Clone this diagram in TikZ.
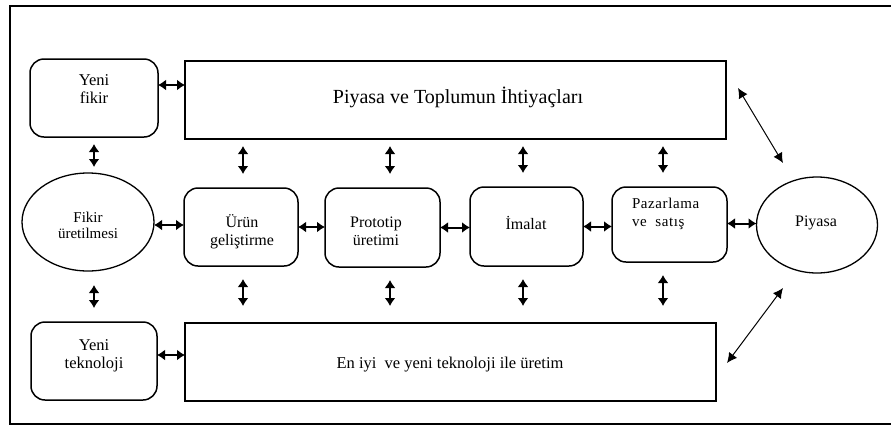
\documentclass[tikz,border=0pt]{standalone}
\usepackage{fontspec}
\setmainfont{Liberation Serif}
\usetikzlibrary{arrows.meta,shapes.geometric,calc}
\begin{document}
\begin{tikzpicture}[x=1pt,y=-1pt,
  every node/.style={inner sep=0pt, outer sep=0pt},
  rbox/.style={draw, line width=1.5pt, rounded corners=14pt},
  sbox/.style={draw, line width=1.5pt},
  oval/.style={draw, ellipse, line width=1.3pt},
  txt/.style={align=center, font=\fontsize{16}{18}\selectfont},
  link/.style={line width=2pt, {Latex[length=8pt,width=11pt]}-{Latex[length=8pt,width=11pt]}},
  diag/.style={line width=1pt, {Latex[length=10pt,width=10pt]}-{Latex[length=10pt,width=10pt]}}]
\useasboundingbox (0,0) rectangle (891,429);
% outer frame
\draw[line width=1.8pt] (891,6) -- (10,6) -- (10,424) -- (891,424);

% boxes
\node[rbox, minimum width=128, minimum height=78] (yf) at (94,98) {};
\node[sbox, minimum width=541, minimum height=78] (top) at (455.5,100) {};
\node[oval, minimum width=132, minimum height=98] (fk) at (88,222) {};
\node[rbox, minimum width=114, minimum height=78] (ur) at (241,227) {};
\node[rbox, minimum width=115, minimum height=79] (pr) at (382.5,227.5) {};
\node[rbox, minimum width=113, minimum height=79] (im) at (526.5,226.5) {};
\node[rbox, minimum width=115, minimum height=75] (pz) at (669.5,224.5) {};
\node[oval, minimum width=121, minimum height=96] (pi) at (817,225) {};
\node[rbox, minimum width=126, minimum height=78] (yt) at (94,361) {};
\node[sbox, minimum width=531, minimum height=78] (bot) at (450.5,362) {};

% labels
\node[txt, font=\fontsize{16.5}{18}\selectfont] (yf-t) at (94,89) {Yeni\\fikir};
\node[txt, font=\fontsize{20}{22}\selectfont] (top-t) at (458,97) {Piyasa ve Toplumun İhtiyaçları};
\node[txt, font=\fontsize{15}{16}\selectfont] (fk-t) at (88,225) {Fikir\\üretilmesi};
\node[txt] (ur-t) at (242,231.5) {Ürün\\geliştirme};
\node[txt] (pr-t) at (376,231) {Prototip\\üretimi};
\node[txt] (im-t) at (526,223) {İmalat};
\node[txt, align=left, anchor=west, font=\fontsize{15}{18}\selectfont\addfontfeature{LetterSpace=4}] (pz-t) at (632,214) {Pazarlama\\ve\ \ satış};
\node[txt] (pi-t) at (816,223) {Piyasa};
\node[txt, font=\fontsize{16.5}{18}\selectfont] (yt-t) at (94,356) {Yeni\\teknoloji};
\node[txt, font=\fontsize{16.5}{18}\selectfont] (bot-t) at (450,365) {En iyi\ \ ve yeni teknoloji ile üretim};

% horizontal links
\draw[link] ([yshift=13pt]yf.east) -- ([yshift=15pt]top.west);
\draw[link] ([yshift=6pt]yt.east) -- ([yshift=7pt]bot.west);
\draw[link] ([yshift=-3pt]fk.east) -- ([yshift=-3pt]fk.east -| ur.west);
\draw[link] (ur.east) -- (ur.east -| pr.west);
\draw[link] (pr.east) -- (pr.east -| im.west);
\draw[link] (im.east) -- (im.east -| pz.west);
\draw[link] ([yshift=1pt]pz.east) -- ([yshift=1pt]pz.east -| pi.west);

% vertical links, left column
\draw[link, shorten <=7pt, shorten >=6pt] (yf.south) -- (yf.south |- fk.north);
\draw[link, shorten <=14pt, shorten >=14pt] (yt.north |- fk.south) -- (yt.north);

% vertical links, middle columns
\foreach \b/\dx in {ur/2, pr/7.5, im/-3.5, pz/-6.5}{
  \draw[link, shorten <=7pt, shorten >=14pt] ([xshift=\dx pt]\b.north |- top.south) -- ([xshift=\dx pt]\b.north);
  \draw[link, shorten <=13pt, shorten >=17pt] ([xshift=\dx pt]\b.south) -- ([xshift=\dx pt]\b.south |- bot.north);
}

% diagonal links to the market
\draw[diag] ([shift={(12,27)}]top.north east) -- ([shift={(-34,-62)}]pi.center);
\draw[diag] ([shift={(-34,63)}]pi.center) -- ([shift={(11,40)}]bot.north east);
\end{tikzpicture}
\end{document}
